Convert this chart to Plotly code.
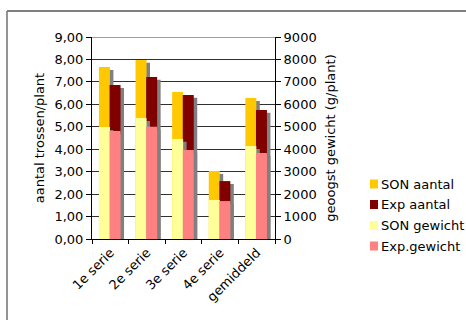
import plotly.graph_objects as go

# categories and series
categories = ["1e serie", "2e serie", "3e serie", "4e serie", "gemiddeld"]
son_aantal = [7.66, 7.98, 6.55, 3.03, 6.28]      # trossen/plant
exp_aantal = [6.86, 7.22, 6.42, 2.58, 5.75]
son_gewicht = [4990, 5390, 4460, 1740, 4140]     # g/plant
exp_gewicht = [4810, 5000, 3970, 1690, 3830]

series_names = ["SON aantal", "Exp aantal", "SON gewicht", "Exp.gewicht"]
series_colors = ["#FFC800", "#800000", "#FFFF99", "#FF8080"]

FONT = "DejaVu Sans"
SHADOW = "#808080"
W = 0.30            # bar width in category units
SHIFT_X = 0.095     # horizontal depth offset of the shadow
DROP_L = 0.13       # vertical depth offset on the left axis
DROP_R = 130        # vertical depth offset on the right axis

# plot-area geometry in pixels (figure 466 x 320)
FIG_W, FIG_H = 466, 320
PL, PR, PT, PB = 92, 275, 37, 239


def px_x(x):
    return (x - PL) / (PR - PL)


def px_y(y):
    return (PB - y) / (PB - PT)


fig = go.Figure()


def add_series(values, name, color, offset, axis, drop):
    # depth shadow behind the bar
    fig.add_trace(go.Bar(
        x=categories, y=[v - drop for v in values], yaxis=axis,
        offset=offset + SHIFT_X, width=W, marker_color=SHADOW,
        marker_line_width=0, showlegend=False, hoverinfo="skip", opacity=1,
    ))
    fig.add_trace(go.Bar(
        x=categories, y=values, yaxis=axis, name=name,
        offset=offset, width=W, marker_color=color, marker_line_width=0,
        opacity=1, showlegend=False,
    ))


add_series(son_aantal, series_names[0], series_colors[0], -0.31, "y", DROP_L)
add_series(exp_aantal, series_names[1], series_colors[1], -0.02, "y", DROP_L)
add_series(son_gewicht, series_names[2], series_colors[2], -0.31, "y2", DROP_R)
add_series(exp_gewicht, series_names[3], series_colors[3], -0.02, "y2", DROP_R)

# key at the right: small square swatches with labels
shapes = [
    # top edge of the plot wall
    dict(type="line", xref="paper", yref="y", x0=0, x1=1, y0=9, y1=9,
         line=dict(color="#A0A0A0", width=2), layer="above"),
    # chart frame: left and top edges (the rest runs off the page)
    dict(type="line", xref="paper", yref="paper",
         x0=px_x(7), x1=px_x(7), y0=px_y(FIG_H + 20), y1=px_y(11),
         line=dict(color="#707070", width=1.5), layer="below"),
    dict(type="line", xref="paper", yref="paper",
         x0=px_x(7), x1=px_x(FIG_W + 20), y0=px_y(11), y1=px_y(11),
         line=dict(color="#808080", width=2), layer="below"),
]
annotations = []
row_centers = [184, 204.5, 225.5, 246]
for name, color, cy in zip(series_names, series_colors, row_centers):
    shapes.append(dict(
        type="rect", xref="paper", yref="paper",
        x0=px_x(370), x1=px_x(378), y0=px_y(cy + 4.5), y1=px_y(cy - 4.5),
        fillcolor=color, line=dict(width=0), layer="above",
    ))
    annotations.append(dict(
        text=name, xref="paper", yref="paper", x=px_x(379), y=px_y(cy),
        xanchor="left", yanchor="middle", showarrow=False,
        font=dict(family=FONT, size=13, color="black"),
    ))

fig.update_layout(
    width=FIG_W, height=FIG_H,
    margin=dict(l=PL, r=FIG_W - PR, t=PT, b=FIG_H - PB),
    paper_bgcolor="white", plot_bgcolor="white",
    barmode="overlay",
    separators=", ",
    font=dict(family=FONT, size=13, color="black"),
    showlegend=False,
    xaxis=dict(
        type="category", showline=True, linecolor="black", linewidth=1,
        ticks="outside", ticklen=4, tickcolor="black", tickson="boundaries",
        tickangle=-45, showgrid=False, range=[-0.5, 4.5],
        tickfont=dict(size=13),
    ),
    yaxis=dict(
        range=[0, 9], dtick=1, tickformat=".2f",
        showline=True, linecolor="black", linewidth=1,
        ticks="outside", ticklen=5, tickcolor="black",
        showgrid=True, gridcolor="#303030", gridwidth=1, zeroline=False,
        title=dict(text="aantal trossen/plant", font=dict(size=13), standoff=6),
        tickfont=dict(size=13),
    ),
    yaxis2=dict(
        range=[0, 9000], dtick=1000, tickformat="d", overlaying="y", side="right",
        showline=True, linecolor="black", linewidth=1,
        ticks="outside", ticklen=5, tickcolor="black",
        showgrid=False, zeroline=False,
        title=dict(text="geoogst gewicht (g/plant)", font=dict(size=13), standoff=10),
        tickfont=dict(size=13),
    ),
    shapes=shapes,
    annotations=annotations,
)

fig.write_html("out.html")
